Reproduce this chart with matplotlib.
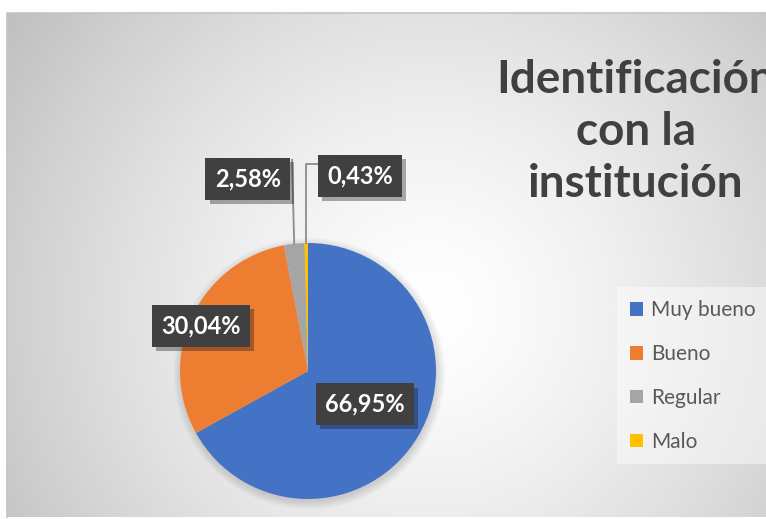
import numpy as np
import matplotlib.pyplot as plt
import matplotlib.patheffects as pe

categories = ["Muy bueno", "Bueno", "Regular", "Malo"]
values = [66.95, 30.04, 2.58, 0.43]
labels = ["66,95%", "30,04%", "2,58%", "0,43%"]
colors = ["#4472C4", "#ED7D31", "#A5A5A5", "#FFC000"]
title = "Identificación\ncon la\ninstitución"

W, H = 766, 519
fig = plt.figure(figsize=(W / 100, H / 100), dpi=100)
fig.patch.set_facecolor("white")

# background: radial gradient chart area (pixel coords, y from top)
bg = fig.add_axes([0, 0, 1, 1])
bg.set_xlim(0, W)
bg.set_ylim(H, 0)
bg.axis("off")
x0, x1, y0, y1 = 7, 775, 13, 517
xx, yy = np.meshgrid(np.linspace(x0, x1, 400), np.linspace(y0, y1, 300))
d = np.hypot(xx - 430, yy - 310) / 500
g = 1 - 0.24 * np.clip(d, 0, 1.2) ** 1.4
bg.imshow(np.dstack([g, g, g]), extent=(x0, x1, y1, y0), aspect="auto",
          interpolation="bilinear", zorder=0)
bg.plot([x0, x0, x1], [y1, y0, y0], color="#c4c4c4", lw=1.2, zorder=1)

# pie
cx, cy, r = 308, 371, 128
ax = fig.add_axes([(cx - r) / W, (H - cy - r) / H, 2 * r / W, 2 * r / H])

wedges, _ = ax.pie(values, colors=colors, startangle=90, counterclock=False,
                   radius=1, wedgeprops=dict(linewidth=0))
ax.set_xlim(-1, 1)
ax.set_ylim(-1, 1)
ax.set_aspect("equal")
ax.axis("off")

# soft shadow
for k in range(6):
    ax.add_patch(plt.Circle((0.01, -0.02), 1 + 0.012 * k, color="black",
                            alpha=0.022, lw=0, zorder=0, clip_on=False))

# label positions (pie coords)
pos = [(0.445, -0.26), (-0.835, 0.355), (-0.47, 1.5), (0.405, 1.525)]
for (lx, ly), t in zip(pos, labels):
    txt = ax.text(lx, ly, t, ha="center", va="center", fontsize=17,
                  fontweight="bold", family="Lato", color="white",
                  bbox=dict(boxstyle="square,pad=0.4", fc="#404040", ec="none"),
                  clip_on=False, zorder=5)
    txt.get_bbox_patch().set_path_effects(
        [pe.SimplePatchShadow(offset=(3, -3), alpha=0.35), pe.Normal()])

# leader lines
cum = np.cumsum(values) - np.array(values) / 2
ang = np.deg2rad(90 - cum / sum(values) * 360)
gx, gy = np.cos(ang[2]), np.sin(ang[2])
ax.plot([gx, -0.125], [gy, 1.65], color="#8c8c8c", lw=1.3, clip_on=False, zorder=3)
mx, my = np.cos(ang[3]), np.sin(ang[3])
ax.plot([mx, mx, 0.08], [my, 1.615, 1.615], color="#8c8c8c", lw=1.3,
        clip_on=False, zorder=3)

# title
fig.text(636 / W, 1 - 132 / H, title, ha="center", va="center", fontsize=33,
         fontweight="bold", family="Lato", color="#404040", linespacing=1.29)

# legend
leg = fig.legend(wedges, categories, loc="upper left",
                 bbox_to_anchor=(607 / W, 1 - 277 / H), frameon=True,
                 prop=dict(family="Lato", size=15), labelcolor="#595959",
                 handlelength=0.65, handleheight=0.65, handletextpad=0.35,
                 labelspacing=1.15, borderpad=0.6, fancybox=False)
leg.get_frame().set_facecolor("white")
leg.get_frame().set_alpha(0.45)
leg.get_frame().set_edgecolor("none")

fig.savefig("out.png", dpi=100)
